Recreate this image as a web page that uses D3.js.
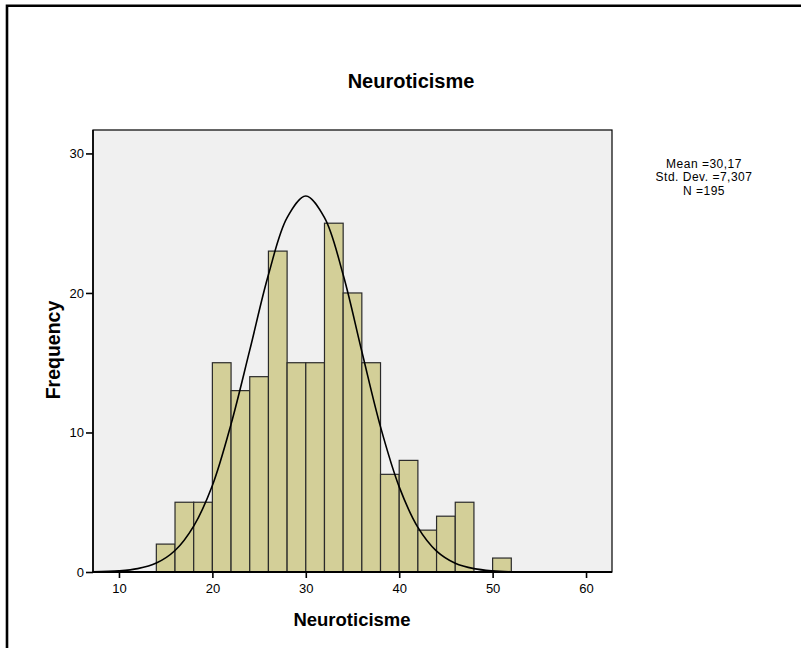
<!DOCTYPE html>
<html>
<head>
<meta charset="utf-8">
<script src="https://cdn.jsdelivr.net/npm/d3@7"></script>
<style>
  html, body { margin: 0; padding: 0; background: #fff; }
  svg { display: block; font-family: "Liberation Sans", Arial, sans-serif; }
</style>
</head>
<body>
<svg id="chart" width="801" height="648"></svg>
<script>
// Histogram bins (lower edge of each 2-point bin) and their frequencies
const binStarts = [14, 16, 18, 20, 22, 24, 26, 28, 30, 32, 34, 36, 38, 40, 42, 44, 46, 48, 50];
const binCounts = [2, 5, 5, 15, 13, 14, 23, 15, 15, 25, 20, 15, 7, 8, 3, 4, 5, 0, 1];
const binWidth = 2;

// Fitted normal curve, sampled along the score axis
const curveX = [7.2, 10, 12, 14, 16, 18, 20, 22, 24, 26, 28, 30, 32, 34, 36, 38, 40, 42, 44, 46, 48, 50, 52, 55];
const curveY = [0.01, 0.08, 0.24, 0.64, 1.54, 3.29, 6.2, 10.6, 15.9, 21.3, 25.4, 26.95, 25.4, 21.3, 15.8, 10.4, 6.1, 3.2, 1.5, 0.63, 0.24, 0.08, 0.02, 0.0];

// Tick labels and summary statistics
const xTicks = [10, 20, 30, 40, 50, 60];
const yTicks = [0, 10, 20, 30];
const statLines = ["Mean =30,17", "Std. Dev. =7,307", "N =195"];

const title = "Neuroticisme";
const xTitle = "Neuroticisme";
const yTitle = "Frequency";

const svg = d3.select("#chart");

// Outer chart frame
svg.append("path")
  .attr("d", "M7,648V5.8H801")
  .attr("fill", "none")
  .attr("stroke", "#000")
  .attr("stroke-width", 2.6);

const plot = { left: 93, top: 130, right: 612, bottom: 572 };

const x = d3.scaleLinear().domain([7.22, 62.78]).range([plot.left, plot.right]);
const y = d3.scaleLinear().domain([0, 31.68]).range([plot.bottom, plot.top]);

// Plot area background
svg.append("rect")
  .attr("x", plot.left).attr("y", plot.top)
  .attr("width", plot.right - plot.left).attr("height", plot.bottom - plot.top)
  .attr("fill", "#f0f0f0");

// Bars
svg.append("g").selectAll("rect")
  .data(binStarts.map((s, i) => ({ s, c: binCounts[i] })).filter(d => d.c > 0))
  .join("rect")
  .attr("x", d => x(d.s))
  .attr("y", d => y(d.c))
  .attr("width", d => x(d.s + binWidth) - x(d.s))
  .attr("height", d => y(0) - y(d.c))
  .attr("fill", "#d3cf98")
  .attr("stroke", "#2a2a2a")
  .attr("stroke-width", 1.2);

// Normal curve
const line = d3.line()
  .x((d, i) => x(curveX[i]))
  .y(d => y(d))
  .curve(d3.curveCatmullRom.alpha(0.5));
svg.append("path")
  .attr("d", line(curveY))
  .attr("fill", "none")
  .attr("stroke", "#000")
  .attr("stroke-width", 1.6);

// Plot frame
svg.append("rect")
  .attr("x", plot.left).attr("y", plot.top)
  .attr("width", plot.right - plot.left).attr("height", plot.bottom - plot.top)
  .attr("fill", "none")
  .attr("stroke", "#000")
  .attr("stroke-width", 1.2);
svg.append("line")
  .attr("x1", plot.left).attr("x2", plot.right)
  .attr("y1", plot.bottom).attr("y2", plot.bottom)
  .attr("stroke", "#000").attr("stroke-width", 2);
svg.append("line")
  .attr("x1", plot.left).attr("x2", plot.left)
  .attr("y1", plot.top).attr("y2", plot.bottom)
  .attr("stroke", "#000").attr("stroke-width", 1.6);

// Axes
const yAxis = svg.append("g")
  .attr("transform", `translate(${plot.left},0)`)
  .call(d3.axisLeft(y).tickValues(yTicks).tickSize(7).tickPadding(2));
const xAxis = svg.append("g")
  .attr("transform", `translate(0,${plot.bottom})`)
  .call(d3.axisBottom(x).tickValues(xTicks).tickSize(6).tickPadding(6));
[xAxis, yAxis].forEach(g => {
  g.select(".domain").remove();
  g.selectAll(".tick line").attr("stroke", "#000").attr("stroke-width", 1.6);
  g.selectAll(".tick text")
    .attr("fill", "#000")
    .style("font-family", "'Liberation Sans', Arial, sans-serif")
    .style("font-size", "13px");
});

// Titles
svg.append("text")
  .attr("x", 411).attr("y", 88)
  .attr("text-anchor", "middle")
  .style("font-size", "20px").style("font-weight", "bold")
  .text(title);
svg.append("text")
  .attr("x", 352).attr("y", 626)
  .attr("text-anchor", "middle")
  .style("font-size", "18.5px").style("font-weight", "bold")
  .text(xTitle);
svg.append("text")
  .attr("transform", "translate(60,350) rotate(-90)")
  .attr("text-anchor", "middle")
  .style("font-size", "19.5px").style("font-weight", "bold")
  .text(yTitle);

// Summary statistics
svg.append("g").selectAll("text")
  .data(statLines)
  .join("text")
  .attr("x", 704)
  .attr("y", (d, i) => 168 + i * 13.4)
  .attr("text-anchor", "middle")
  .style("font-size", "12px")
  .style("letter-spacing", "0.5px")
  .text(d => d);
</script>
</body>
</html>
